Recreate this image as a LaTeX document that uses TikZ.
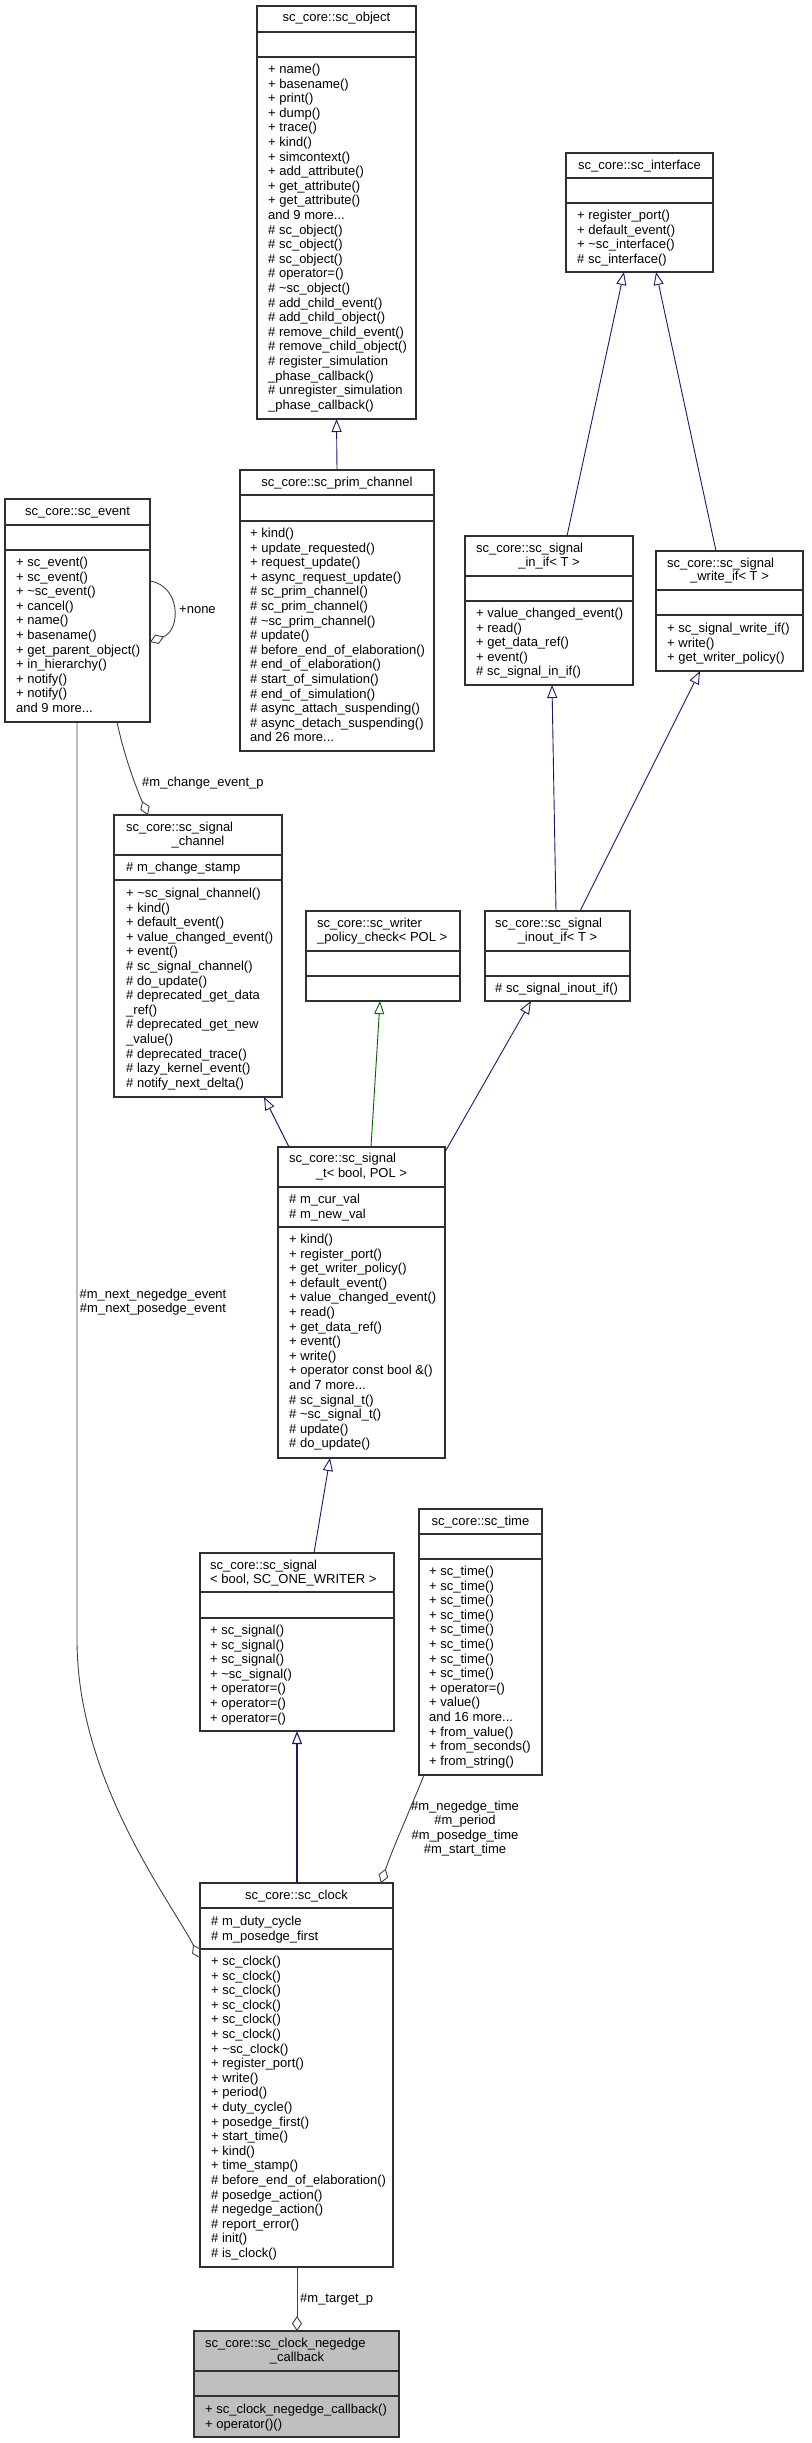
\documentclass[tikz,border=0pt]{standalone}
\usepackage{fontspec}
\setmainfont{Liberation Sans}
\usetikzlibrary{arrows.meta}
\definecolor{navy}{HTML}{191970}
\definecolor{dgreen}{HTML}{006400}
\definecolor{edgegray}{HTML}{404040}
\definecolor{boxgray}{HTML}{303030}
\definecolor{cbfill}{HTML}{BFBFBF}
\newcommand\fs{\fontsize{13}{14.6}\selectfont}
\newcommand\tdots{...}
\tikzset{
  clsbox/.style={draw=boxgray, line width=1.1pt, inner sep=0, outer sep=0, anchor=north west},
  clsline/.style={draw=boxgray, line width=1.1pt},
  mtxt/.style={anchor=base west, inner sep=0, font=\fs},
  ttxt/.style={anchor=base, inner sep=0, font=\fs},
  lbl/.style={inner sep=0, font=\fs},
  inh/.style={draw=navy, line width=0.9pt, -{Triangle[open, length=13pt, width=10pt]}},
  inhg/.style={draw=dgreen, line width=0.9pt, -{Triangle[open, length=13pt, width=10pt]}},
  agg/.style={draw=edgegray, line width=0.9pt, -{Diamond[open, length=15pt, width=10pt]}}
}
\newcommand\cls[6][white]{% fill, name, x1, y1, x2, y2
  \node[clsbox, fill=#1, minimum width={#5-#3}, minimum height={#6-#4}] (#2) at (#3,#4) {};}
\newcommand\sep[2]{\draw[clsline] (#1.west |- 0,#2) -- (#1.east |- 0,#2);}
\newcommand\mlist[4]{\foreach \tx [count=\ix from 0] in {#4} {\node[mtxt] (#1\ix) at (#2,{#3+14.6*\ix}) {\tx};}}
\begin{document}
\begin{tikzpicture}[x=1pt, y=-1pt]
\useasboundingbox (0,0) rectangle (811,2443);

% sc_object
\cls{obj}{257}{6}{416}{419}
\sep{obj}{32}\sep{obj}{57}
\node[ttxt] (objt) at (336.5,21.5) {sc\_core::sc\_object};
\mlist{objm}{268}{73.5}{+ name(), + basename(), + print(), + dump(), + trace(), + kind(), + simcontext(), + add\_attribute(), + get\_attribute(), + get\_attribute(), and 9 more\tdots, \# sc\_object(), \# sc\_object(), \# sc\_object(), \# operator=(), \# \textasciitilde sc\_object(), \# add\_child\_event(), \# add\_child\_object(), \# remove\_child\_event(), \# remove\_child\_object(), \# register\_simulation, \_phase\_callback(), \# unregister\_simulation, \_phase\_callback()}

% sc_interface
\cls{iface}{566}{153}{713}{272}
\sep{iface}{178}\sep{iface}{203}
\node[ttxt] (ifacet) at (639.5,169.5) {sc\_core::sc\_interface};
\mlist{ifacem}{577}{219.5}{+ register\_port(), + default\_event(), + \textasciitilde sc\_interface(), \# sc\_interface()}

% sc_prim_channel
\cls{prim}{240}{470}{434}{751}
\sep{prim}{495}\sep{prim}{521}
\node[ttxt] (primt) at (337,486.5) {sc\_core::sc\_prim\_channel};
\mlist{primm}{250}{537.5}{+ kind(), + update\_requested(), + request\_update(), + async\_request\_update(), \# sc\_prim\_channel(), \# sc\_prim\_channel(), \# \textasciitilde sc\_prim\_channel(), \# update(), \# before\_end\_of\_elaboration(), \# end\_of\_elaboration(), \# start\_of\_simulation(), \# end\_of\_simulation(), \# async\_attach\_suspending(), \# async\_detach\_suspending(), and 26 more\tdots}

% sc_event
\cls{event}{5}{499}{150}{722}
\sep{event}{525}\sep{event}{550}
\node[ttxt] (eventt) at (77.5,515) {sc\_core::sc\_event};
\mlist{eventm}{16}{566.5}{+ sc\_event(), + sc\_event(), + \textasciitilde sc\_event(), + cancel(), + name(), + basename(), + get\_parent\_object(), + in\_hierarchy(), + notify(), + notify(), and 9 more\tdots}

% sc_signal_in_if
\cls{inif}{465}{536}{633}{685}
\sep{inif}{576}\sep{inif}{601}
\node[mtxt] (inift1) at (476,552.5) {sc\_core::sc\_signal};
\node[ttxt] (inift2) at (549,566.5) {\_in\_if< T >};
\mlist{inifm}{476}{617.5}{+ value\_changed\_event(), + read(), + get\_data\_ref(), + event(), \# sc\_signal\_in\_if()}

% sc_signal_write_if
\cls{wrif}{656}{551}{803}{671}
\sep{wrif}{590}\sep{wrif}{615}
\node[mtxt] (wrift1) at (667,567.5) {sc\_core::sc\_signal};
\node[ttxt] (wrift2) at (729.5,580.5) {\_write\_if< T >};
\mlist{wrifm}{667}{632.5}{+ sc\_signal\_write\_if(), + write(), + get\_writer\_policy()}

% sc_signal_channel
\cls{sigch}{114}{815}{282}{1097}
\sep{sigch}{855}\sep{sigch}{880}
\node[mtxt] (sigcht1) at (126,831.5) {sc\_core::sc\_signal};
\node[ttxt] (sigcht2) at (198,845.5) {\_channel};
\node[mtxt] (sigcha) at (126,871.5) {\# m\_change\_stamp};
\mlist{sigchm}{126}{897.5}{+ \textasciitilde sc\_signal\_channel(), + kind(), + default\_event(), + value\_changed\_event(), + event(), \# sc\_signal\_channel(), \# do\_update(), \# deprecated\_get\_data, \_ref(), \# deprecated\_get\_new, \_value(), \# deprecated\_trace(), \# lazy\_kernel\_event(), \# notify\_next\_delta()}

% sc_writer_policy_check
\cls{wpc}{306}{911}{460}{1001}
\sep{wpc}{951}\sep{wpc}{976}
\node[mtxt] (wpct1) at (317,927.5) {sc\_core::sc\_writer};
\node[mtxt] (wpct2) at (317,941.5) {\_policy\_check< POL >};

% sc_signal_inout_if
\cls{inout}{485}{911}{630}{1001}
\sep{inout}{951}\sep{inout}{976}
\node[mtxt] (inoutt1) at (495,927.5) {sc\_core::sc\_signal};
\node[ttxt] (inoutt2) at (557.5,941.5) {\_inout\_if< T >};
\node[mtxt] (inoutm) at (495,992.5) {\# sc\_signal\_inout\_if()};

% sc_signal_t
\cls{sigt}{278}{1147}{445}{1458}
\sep{sigt}{1187}\sep{sigt}{1227}
\node[mtxt] (sigtt1) at (289,1162.5) {sc\_core::sc\_signal};
\node[ttxt] (sigtt2) at (361.5,1177.5) {\_t< bool, POL >};
\mlist{sigta}{289}{1203.5}{\# m\_cur\_val, \# m\_new\_val}
\mlist{sigtm}{289}{1243.5}{+ kind(), + register\_port(), + get\_writer\_policy(), + default\_event(), + value\_changed\_event(), + read(), + get\_data\_ref(), + event(), + write(), + operator const bool \&(), and 7 more\tdots, \# sc\_signal\_t(), \# \textasciitilde sc\_signal\_t(), \# update(), \# do\_update()}

% sc_signal<bool, SC_ONE_WRITER>
\cls{sig}{200}{1553}{394}{1731}
\sep{sig}{1592}\sep{sig}{1618}
\node[mtxt] (sigt1) at (210,1569.5) {sc\_core::sc\_signal};
\node[mtxt] (sigt2) at (210,1583.5) {< bool, SC\_ONE\_WRITER >};
\mlist{sigm}{210}{1634.5}{+ sc\_signal(), + sc\_signal(), + sc\_signal(), + \textasciitilde sc\_signal(), + operator=(), + operator=(), + operator=()}

% sc_time
\cls{time}{419}{1509}{542}{1775}
\sep{time}{1534}\sep{time}{1559}
\node[ttxt] (timet) at (480.5,1525.5) {sc\_core::sc\_time};
\mlist{timem}{429}{1575.5}{+ sc\_time(), + sc\_time(), + sc\_time(), + sc\_time(), + sc\_time(), + sc\_time(), + sc\_time(), + sc\_time(), + operator=(), + value(), and 16 more\tdots, + from\_value(), + from\_seconds(), + from\_string()}

% sc_clock
\cls{clock}{200}{1883}{393}{2267}
\sep{clock}{1908}\sep{clock}{1949}
\node[ttxt] (clockt) at (296.5,1899.5) {sc\_core::sc\_clock};
\mlist{clocka}{211}{1925.5}{\# m\_duty\_cycle, \# m\_posedge\_first}
\mlist{clockm}{211}{1965.5}{+ sc\_clock(), + sc\_clock(), + sc\_clock(), + sc\_clock(), + sc\_clock(), + sc\_clock(), + \textasciitilde sc\_clock(), + register\_port(), + write(), + period(), + duty\_cycle(), + posedge\_first(), + start\_time(), + kind(), + time\_stamp(), \# before\_end\_of\_elaboration(), \# posedge\_action(), \# negedge\_action(), \# report\_error(), \# init(), \# is\_clock()}

% sc_clock_negedge_callback
\cls[cbfill]{cb}{194}{2331}{399}{2437}
\sep{cb}{2371}\sep{cb}{2396}
\node[mtxt] (cbt1) at (205,2347.5) {sc\_core::sc\_clock\_negedge};
\node[ttxt] (cbt2) at (297,2361.5) {\_callback};
\mlist{cbm}{205}{2413.5}{+ sc\_clock\_negedge\_callback(), + operator()()}

% inheritance edges
\draw[inh] (prim.north) -- (obj.south);
\draw[inh] (inif.north -| 567,0) -- (iface.south -| 624,0);
\draw[inh] (wrif.north -| 716,0) -- (iface.south -| 656,0);
\draw[inh] (inout.north -| 556,0) -- (inif.south -| 552,0);
\draw[inh] (inout.north -| 580,0) -- (wrif.south -| 700,0);
\draw[inh] (sigt.north -| 289,0) -- (sigch.south -| 264,0);
\draw[inhg] (sigt.north -| 371,0) -- (wpc.south -| 380,0);
\draw[inh] (sigt.east |- 0,1152) -- (inout.south -| 531,0);
\draw[inh] (sig.north -| 314,0) -- (sigt.south -| 330,0);
\draw[inh, line width=1.1pt] (clock.north -| 297,0) -- (sig.south -| 297,0);

% aggregation edges
\draw[agg] (event.east |- 0,581) .. controls (181,586) and (181,630) .. (event.east |- 0,642);
\node[lbl, anchor=west] (lnone) at (179,610) {+none};
\draw[agg] (event.south -| 117,0) .. controls (124,755) and (135,785) .. (sigch.north -| 148,0);
\node[lbl, anchor=west] (lchg) at (142,783) {\#m\_change\_event\_p};
\draw[agg] (event.south -| 77,0) -- (77,1640) .. controls (77,1780) and (170,1900) .. (clock.west |- 0,1958);
\node[lbl, align=center] (lnext) at (153,1302) {\#m\_next\_negedge\_event\\\#m\_next\_posedge\_event};
\draw[agg] (time.south -| 424,0) .. controls (410,1810) and (392,1850) .. (clock.north -| 381,0);
\node[lbl, align=center] (ltime) at (465,1828.5) {\#m\_negedge\_time\\\#m\_period\\\#m\_posedge\_time\\\#m\_start\_time};
\draw[agg] (clock.south -| 297,0) -- (cb.north -| 297,0);
\node[lbl, anchor=west] (ltgt) at (300,2299) {\#m\_target\_p};
\end{tikzpicture}
\end{document}
